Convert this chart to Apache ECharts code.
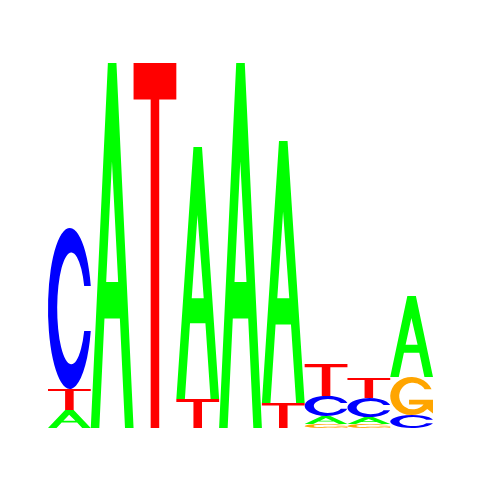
<!DOCTYPE html>
<html>
<head>
<meta charset="utf-8">
<script src="https://cdn.jsdelivr.net/npm/echarts@6/dist/echarts.min.js"></script>
<style>
  html, body { margin: 0; padding: 0; background: #fff; }
  #main { width: 480px; height: 480px; }
</style>
</head>
<body>
<div id="main"></div>
<script>
// positions of the motif and letter heights (bits) per position
const positions = [1, 2, 3, 4, 5, 6, 7, 8, 9];
const letters = ['A', 'C', 'G', 'T'];
const heightA = [0.099, 2.0, 0, 1.381, 2.0, 1.436, 0.044, 0.038, 0.444];
const heightC = [0.882, 0, 0, 0, 0, 0, 0.110, 0.104, 0.071];
const heightG = [0, 0, 0, 0, 0, 0, 0.022, 0.022, 0.208];
const heightT = [0.115, 0, 2.0, 0.159, 0, 0.137, 0.175, 0.110, 0];

const colors = { A: '#00ff00', C: '#0000ff', G: '#ffa500', T: '#ff0000' };

// glyph outlines in a 100x100 box, stretched to each letter's box
const glyphs = {
  A: 'M0 100 L40 0 L60 0 L100 100 L80 100 L68 70 L32 70 L20 100 Z M36 60 L64 60 L49.5 27 Z',
  C: 'M98 36 A50 50 0 1 0 98 64 L82.9 64 A32.3 34.7 0 1 1 82.9 36 Z',
  G: 'M96.6 32 A50 50 0 1 0 86.7 84 L100 96 L100 60 L44 60 L44 72 L77.9 72 A32 35 0 1 1 80.4 32 Z',
  T: 'M0 0 L100 0 L100 10 L60 10 L60 100 L40 100 L40 10 L0 10 Z'
};

const heights = { A: heightA, C: heightC, G: heightG, T: heightT };

// stack each column, smallest letter at the bottom
let stackData = [];
positions.forEach((pos, i) => {
  let col = letters.map(l => ({ l: l, h: heights[l][i] }))
    .filter(d => d.h > 0)
    .sort((a, b) => a.h - b.h);
  let base = 0;
  col.forEach(d => {
    stackData.push([pos, base, base + d.h, letters.indexOf(d.l)]);
    base += d.h;
  });
});

let myChart = echarts.init(document.getElementById('main'));
myChart.setOption({
  animation: false,
  backgroundColor: '#ffffff',
  grid: { left: 48, right: 47, top: 63, bottom: 52 },
  xAxis: { type: 'value', min: 0.5, max: 9.5, show: false },
  yAxis: { type: 'value', min: 0, max: 2, show: false },
  series: [{
    type: 'custom',
    data: stackData,
    renderItem: function (params, api) {
      let pos = api.value(0);
      let p1 = api.coord([pos - 0.5, api.value(2)]);
      let p2 = api.coord([pos + 0.5, api.value(1)]);
      let l = letters[api.value(3)];
      return {
        type: 'path',
        shape: {
          pathData: glyphs[l],
          x: p1[0], y: p1[1],
          width: p2[0] - p1[0], height: p2[1] - p1[1],
          layout: 'cover'
        },
        style: { fill: colors[l] }
      };
    }
  }]
});
</script>
</body>
</html>
